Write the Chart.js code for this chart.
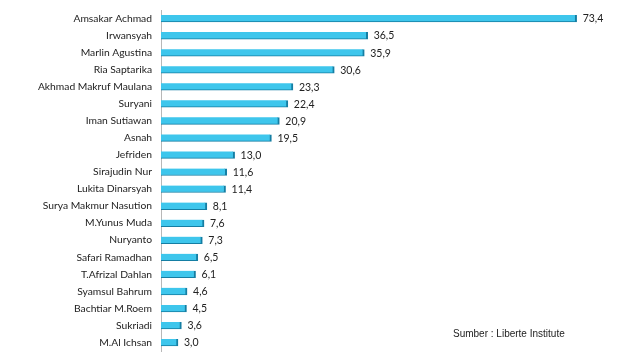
<!DOCTYPE html>
<html>
<head>
<meta charset="utf-8">
<script src="https://cdn.jsdelivr.net/npm/chart.js@4/dist/chart.umd.min.js"></script>
<style>
html,body{margin:0;padding:0;background:#fff;}
#wrap{position:relative;width:640px;height:357px;}
#src{position:absolute;left:453px;top:328px;font-family:"Liberation Sans",Arial,sans-serif;font-size:10px;color:#222;}
</style>
</head>
<body>
<div id="wrap"><canvas id="c" width="640" height="357"></canvas><div id="src">Sumber : Liberte Institute</div></div>
<script>
const names = ["Amsakar Achmad","Irwansyah","Marlin Agustina","Ria Saptarika","Akhmad Makruf Maulana","Suryani","Iman Sutiawan","Asnah","Jefriden","Sirajudin Nur","Lukita Dinarsyah","Surya Makmur Nasution","M.Yunus Muda","Nuryanto","Safari Ramadhan","T.Afrizal Dahlan","Syamsul Bahrum","Bachtiar M.Roem","Sukriadi","M.Al Ichsan"];
const values = [73.4,36.5,35.9,30.6,23.3,22.4,20.9,19.5,13.0,11.6,11.4,8.1,7.6,7.3,6.5,6.1,4.6,4.5,3.6,3.0];

const valueLabels = {
  id:'valueLabels',
  afterDatasetsDraw(chart){
    const ctx = chart.ctx;
    const meta = chart.getDatasetMeta(0);
    ctx.save();
    ctx.font = '10.5px Lato, "Open Sans", sans-serif';
    ctx.fillStyle = '#222';
    ctx.textBaseline = 'middle';
    ctx.textAlign = 'left';
    meta.data.forEach((bar,i)=>{
      ctx.fillText(values[i].toFixed(1).replace('.',','), bar.x + 6, bar.y + 0.5);
    });
    ctx.restore();
  }
};

function barFill(context){
  const chart = context.chart;
  const el = context.element;
  if(!el || el.y === undefined) return '#3ec6ec';
  const y = el.y, h = 7;
  const g = chart.ctx.createLinearGradient(0, y - h/2, 0, y + h/2);
  g.addColorStop(0, '#8fe3f8');
  g.addColorStop(0.35, '#45caee');
  g.addColorStop(1, '#1fa7d2');
  return g;
}

new Chart(document.getElementById('c'), {
  type:'bar',
  data:{
    labels:names,
    datasets:[{
      data:values,
      backgroundColor: barFill,
      borderColor:'#157ea3',
      borderWidth:{top:0,right:2,bottom:1,left:0},
      borderSkipped:'start',
      barThickness:7
    }]
  },
  options:{
    indexAxis:'y',
    responsive:false,
    animation:false,
    layout:{padding:{top:10,bottom:6,left:0,right:26}},
    plugins:{legend:{display:false},tooltip:{enabled:false}},
    scales:{
      x:{
        min:0,max:80,
        display:false,
        grid:{display:false}
      },
      y:{
        afterFit(scale){ scale.width = 161; scale.paddingTop = 0; scale.paddingBottom = 0; },
        grid:{display:false,drawTicks:false},
        border:{display:true,color:'#b8b8b8',width:1},
        ticks:{
          padding:9,
          color:'#222',
          font:{family:'Lato, "Open Sans", sans-serif',size:10.3}
        }
      }
    }
  },
  plugins:[valueLabels]
});
</script>
</body>
</html>
